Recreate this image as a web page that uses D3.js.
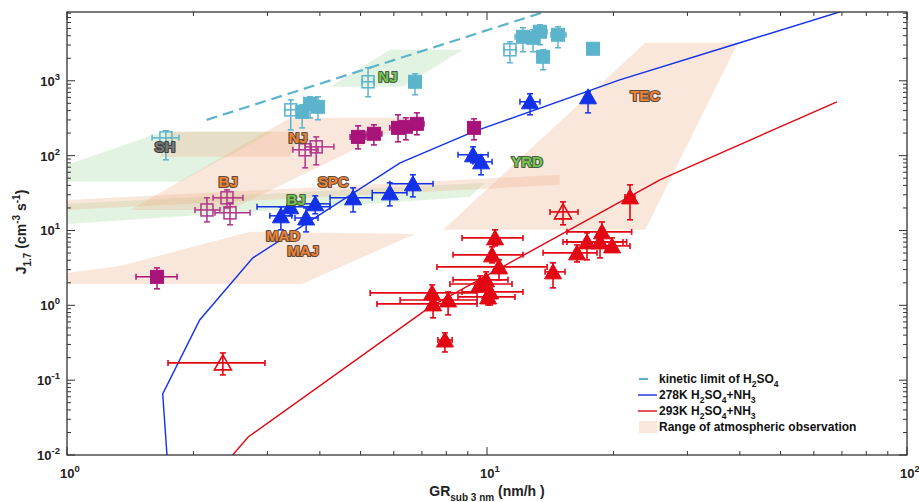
<!DOCTYPE html>
<html><head><meta charset="utf-8">
<script src="https://cdn.jsdelivr.net/npm/d3@7"></script>
<style>body{margin:0;background:#fff}text{font-family:"Liberation Sans",Arial,Helvetica,sans-serif;font-weight:bold}</style>
</head><body><svg id="c" width="919" height="502"></svg>
<script>
// ---- data ----
const xTickExp = [0, 1, 2];
const yTickExp = [-2, -1, 0, 1, 2, 3];
const kineticGR = [2.15, 13.5];
const kineticJ = [300, 8100];
const line278GR = [1.73, 1.69, 2.07, 2.77, 6.21, 9.26, 20.7, 40.0, 69.3];
const line278J = [0.01, 0.0654, 0.638, 4.3, 80, 208, 1031, 3222, 8360];
const line293GR = [2.48, 2.70, 7.32, 25.8, 68.1];
const line293J = [0.01, 0.0174, 0.953, 47.5, 524];
// regions: [GR, J] vertices
const greenRegions = [
  [[4.23,832],[5.87,2596],[8.77,2596],[6.31,832]],
  [[0.764,44.7],[1.69,208],[3.09,208],[1.86,44.7]],
  [[1,22.7],[9.9,43.3],[9.1,28.1],[1,12.2]]
];
const peachRegions = [
  [[7.86,10.2],[23.8,10.2],[39.6,3220],[23.8,3220]],
  [[1.413,18.8],[2.444,18.8],[6.93,320],[3.40,320]],
  [[1.665,96.4],[3.40,96.4],[3.59,208],[1.76,208]],
  [[1,25.6],[14.9,55.4],[14.9,40.7],[1,18.8]],
  [[1,1.93],[3.63,1.93],[6.74,9.0],[2.73,9.6],[1.337,3.36],[1,2.71]]
];
// points: [GR, J, GRlo, GRhi, Jlo, Jhi]
const cyanOpen = [
  [1.72,173,1.594,1.848,87.9,215],
  [5.21,970,5.04,5.38,611,1493],
  [3.41,409,3.30,3.53,221,557],
  [11.34,2597,10.98,11.73,1741,3322]
];
const cyanFilled = [
  [3.63,385,3.53,3.73,235,478],
  [3.79,493,3.69,3.90,320,611],
  [3.96,449,3.85,4.09,301,611],
  [6.74,970,6.52,6.96,650,1241],
  [12.18,3873,11.66,12.73,2443,5113],
  [12.87,3758,12.45,13.3,2443,4808],
  [13.37,4521,12.87,13.9,3030,5610],
  [13.6,2094,13.15,14.05,1404,2596],
  [14.76,4121,14.2,15.42,2762,5270],
  [17.88,2679,null,null,null,null]
];
const magentaOpen = [
  [3.69,119.6,3.45,3.96,68.7,162.6],
  [3.92,131,3.69,4.32,75.4,178],
  [2.154,18.8,2.017,2.313,13.0,27.3],
  [2.404,27.3,2.227,2.624,20.0,34.9],
  [2.444,17.2,2.251,2.728,11.9,23.4]
];
const magentaFilled = [
  [1.638,2.40,1.46,1.828,1.66,3.16],
  [4.93,178,4.72,5.15,123,250],
  [5.38,196,5.15,5.62,139,258],
  [6.14,235,5.87,6.49,153,351],
  [6.41,243,6.2,6.62,162.6,320],
  [6.81,266,6.56,7.08,190,373],
  [9.31,235,9.1,9.52,162.6,310]
];
const blueFilled = [
  [3.23,15.7,3.04,3.43,10.2,20.7],
  [3.40,20.7,2.834,4.229,15.7,25.6],
  [3.71,14.7,3.49,3.96,9.58,20.0],
  [3.90,22.7,3.59,4.23,16.7,29.0],
  [4.80,27.3,4.23,5.33,17.7,37.1],
  [5.87,31.8,5.33,6.45,21.3,43.3],
  [6.66,42.0,5.87,7.44,28.1,55.4],
  [9.26,102.6,8.53,10.06,80.2,131],
  [9.68,82.6,9.26,10.28,55.4,102.6],
  [12.66,524,11.98,13.37,351,670],
  [17.4,611,null,null,373,713]
];
const redFilled = [
  [10.45,7.96,8.72,12.18,6.22,10.2],
  [10.28,4.72,8.30,12.18,3.69,6.04],
  [10.68,3.26,7.60,13.9,2.19,4.05],
  [9.95,2.19,8.30,11.22,1.71,2.80],
  [9.62,1.93,8.16,11.47,1.51,2.47],
  [10.17,1.51,8.72,12.18,1.01,1.93],
  [10.06,1.295,8.53,11.66,1.01,1.66],
  [7.40,1.466,5.27,9.47,1.18,1.87],
  [7.44,1.044,5.47,9.47,0.68,1.34],
  [8.08,1.18,6.21,9.47,0.745,1.51],
  [7.94,0.344,7.64,8.26,0.238,0.428],
  [14.36,2.80,13.75,15.34,1.71,3.69],
  [16.38,5.02,13.6,18.28,3.80,6.41],
  [17.3,7.04,15.17,21.08,4.05,9.29],
  [18.58,7.04,15.5,21.5,4.30,9.29],
  [18.78,9.58,15.5,22.1,6.41,13.0],
  [19.85,6.22,18.58,21.9,5.17,7.96],
  [21.9,28.1,21.3,22.5,13.9,40.7]
];
const redOpen = [
  [15.17,17.7,14.13,16.47,11.9,24.1],
  [2.35,0.170,1.740,2.96,0.1175,0.231]
];
const labelText = ["SH","NJ","NJ","BJ","BJ","SPC","MAD","MAJ","YRD","TEC"];
const labelGR = [1.71,3.55,5.81,2.42,3.51,4.30,3.27,3.65,12.45,23.8];
const labelJ = [131,173,1130,44.7,25.6,44.7,8.47,5.34,82.6,631];
const labelKind = ["gray","orange","green","orange","green","orange","orange","orange","green","orange"];
const legendText = ["kinetic limit of H_2SO_4","278K H_2SO_4+NH_3","293K H_2SO_4+NH_3","Range of atmospheric observation"];

// ---- styles ----
const C = {cyan:"#5cb4cc", magenta:"#a8137a", magentaOpen:"#b0358a", blue:"#1231e8", red:"#e30613",
  peach:"#efae88", green:"#9fd89c", axis:"#333"};
const lblFill = {gray:"#7a7a7a", orange:"#ec8434", green:"#74c453"};
const lblStroke = {gray:"#3c3c3c", orange:"#5e4a3c", green:"#4a5a40"};

const svg = d3.select("#c");
const L=67,R=907,T=12,B=455;
const x = d3.scaleLog().domain([1,100]).range([L,R]);
const y = d3.scaleLog().domain([0.01,8300]).range([B,T]);

svg.append("defs").append("clipPath").attr("id","clip")
  .append("rect").attr("x",L).attr("y",T).attr("width",R-L).attr("height",B-T);
const plot = svg.append("g").attr("clip-path","url(#clip)");

const poly = d3.line().x(d=>x(d[0])).y(d=>y(d[1]));
plot.selectAll(".g").data(greenRegions).join("path")
  .attr("d",d=>poly(d)+"Z").attr("fill",C.green).attr("fill-opacity",0.3);
plot.selectAll(".p").data(peachRegions).join("path")
  .attr("d",d=>poly(d)+"Z").attr("fill",C.peach).attr("fill-opacity",0.3);

const ln = d3.line().x(d=>x(d[0])).y(d=>y(d[1]));
plot.append("path").attr("d",ln(kineticGR.map((g,i)=>[g,kineticJ[i]])))
  .attr("fill","none").attr("stroke",C.cyan).attr("stroke-width",2.2).attr("stroke-dasharray","11,6");
plot.append("path").attr("d",ln(line278GR.map((g,i)=>[g,line278J[i]])))
  .attr("fill","none").attr("stroke",C.blue).attr("stroke-width",1.4);
plot.append("path").attr("d",ln(line293GR.map((g,i)=>[g,line293J[i]])))
  .attr("fill","none").attr("stroke",C.red).attr("stroke-width",1.4);

function errbars(data,color,w){
  const g = plot.append("g").attr("stroke",color).attr("stroke-width",w).attr("fill","none");
  data.forEach(d=>{
    const cx=x(d[0]), cy=y(d[1]);
    if(d[2]!=null){
      const a=x(d[2]), b=x(d[3]);
      g.append("line").attr("x1",a).attr("x2",b).attr("y1",cy).attr("y2",cy);
      g.append("line").attr("x1",a).attr("x2",a).attr("y1",cy-3).attr("y2",cy+3);
      g.append("line").attr("x1",b).attr("x2",b).attr("y1",cy-3).attr("y2",cy+3);
    }
    if(d[4]!=null){
      const a=y(d[4]), b=y(d[5]);
      g.append("line").attr("x1",cx).attr("x2",cx).attr("y1",a).attr("y2",b);
      g.append("line").attr("x1",cx-3).attr("x2",cx+3).attr("y1",a).attr("y2",a);
      g.append("line").attr("x1",cx-3).attr("x2",cx+3).attr("y1",b).attr("y2",b);
    }
  });
}
function squares(data,color,filled,s){
  plot.append("g").selectAll("rect").data(data).join("rect")
    .attr("x",d=>x(d[0])-s/2).attr("y",d=>y(d[1])-s/2).attr("width",s).attr("height",s)
    .attr("fill",filled?color:"none").attr("stroke",color).attr("stroke-width",filled?1:1.5);
}
function triangles(data,color,filled){
  plot.append("g").selectAll("path").data(data).join("path")
    .attr("d",d=>{const cx=x(d[0]),cy=y(d[1]);return `M${cx},${cy-8}L${cx+8.5},${cy+7}L${cx-8.5},${cy+7}Z`;})
    .attr("fill",filled?color:"none").attr("stroke",color).attr("stroke-width",filled?1:1.6);
}
errbars(cyanOpen,C.cyan,1.5); squares(cyanOpen,C.cyan,false,12);
errbars(cyanFilled,C.cyan,1.5); squares(cyanFilled,C.cyan,true,13);
errbars(magentaOpen,C.magentaOpen,1.5); squares(magentaOpen,C.magentaOpen,false,12);
errbars(magentaFilled,C.magenta,1.5); squares(magentaFilled,C.magenta,true,13);
errbars(blueFilled,C.blue,1.5); triangles(blueFilled,C.blue,true);
errbars(redFilled,C.red,1.6); triangles(redFilled,C.red,true);
errbars(redOpen,C.red,1.6); triangles(redOpen,C.red,false);

// labels
svg.append("g").selectAll("text").data(labelText).join("text")
  .attr("x",(d,i)=>x(labelGR[i])).attr("y",(d,i)=>y(labelJ[i]))
  .attr("text-anchor","middle").attr("dominant-baseline","central")
  .attr("font-size",15).attr("paint-order","stroke").attr("stroke-linejoin","round")
  .attr("stroke-width",2.2)
  .attr("fill",(d,i)=>lblFill[labelKind[i]]).attr("stroke",(d,i)=>lblStroke[labelKind[i]])
  .text(d=>d);

// axes box and ticks
const ax = svg.append("g").attr("stroke",C.axis).attr("fill","none");
ax.append("rect").attr("x",L).attr("y",T).attr("width",R-L).attr("height",B-T).attr("stroke-width",1.3);
const xMinor=[], yMinor=[];
for(let e=0;e<2;e++) for(let k=2;k<10;k++) xMinor.push(k*Math.pow(10,e));
for(let e=-2;e<4;e++) for(let k=2;k<10;k++){const v=k*Math.pow(10,e); if(v<=8300) yMinor.push(v);}
xTickExp.forEach(e=>{const px=x(Math.pow(10,e));
  ax.append("line").attr("x1",px).attr("x2",px).attr("y1",B).attr("y2",B-8);
  ax.append("line").attr("x1",px).attr("x2",px).attr("y1",T).attr("y2",T+8);});
xMinor.forEach(v=>{const px=x(v);
  ax.append("line").attr("x1",px).attr("x2",px).attr("y1",B).attr("y2",B-4);
  ax.append("line").attr("x1",px).attr("x2",px).attr("y1",T).attr("y2",T+4);});
yTickExp.forEach(e=>{const py=y(Math.pow(10,e));
  ax.append("line").attr("x1",L).attr("x2",L+8).attr("y1",py).attr("y2",py);
  ax.append("line").attr("x1",R).attr("x2",R-8).attr("y1",py).attr("y2",py);});
yMinor.forEach(v=>{const py=y(v);
  ax.append("line").attr("x1",L).attr("x2",L+4).attr("y1",py).attr("y2",py);
  ax.append("line").attr("x1",R).attr("x2",R-4).attr("y1",py).attr("y2",py);});

const tl = svg.append("g").attr("fill","#222");
xTickExp.forEach(e=>{
  const t=tl.append("text").attr("x",x(Math.pow(10,e))+3).attr("y",478).attr("text-anchor","middle").attr("font-size",13);
  t.append("tspan").text("10");
  t.append("tspan").attr("dy",-6).attr("font-size",9.5).text(e);
});
yTickExp.forEach(e=>{
  const t=tl.append("text").attr("x",L-7).attr("y",y(Math.pow(10,e))+5).attr("text-anchor","end").attr("font-size",13);
  t.append("tspan").text("10");
  t.append("tspan").attr("dy",-6).attr("font-size",9.5).text(e);
});
// axis titles
const xt = tl.append("text").attr("x",487).attr("y",496).attr("text-anchor","middle").attr("font-size",14);
xt.append("tspan").text("GR");
xt.append("tspan").attr("dy",5).attr("font-size",10).text("sub 3 nm");
xt.append("tspan").attr("dy",-5).text(" (nm/h )");
const yt = tl.append("text").attr("transform","translate(26,232) rotate(-90)").attr("text-anchor","middle").attr("font-size",14);
yt.append("tspan").text("J");
yt.append("tspan").attr("dy",5).attr("font-size",10).text("1.7");
yt.append("tspan").attr("dy",-5).text(" (cm");
yt.append("tspan").attr("dy",-6).attr("font-size",10).text("-3");
yt.append("tspan").attr("dy",6).text(" s");
yt.append("tspan").attr("dy",-6).attr("font-size",10).text("-1");
yt.append("tspan").attr("dy",6).text(")");

// legend
const lg = svg.append("g");
const rows=[379,395,411,427];
lg.append("line").attr("x1",639).attr("x2",648).attr("y1",rows[0]).attr("y2",rows[0]).attr("stroke",C.cyan).attr("stroke-width",2.2);
lg.append("line").attr("x1",638).attr("x2",657).attr("y1",rows[1]).attr("y2",rows[1]).attr("stroke",C.blue).attr("stroke-width",1.4);
lg.append("line").attr("x1",638).attr("x2",657).attr("y1",rows[2]).attr("y2",rows[2]).attr("stroke",C.red).attr("stroke-width",1.4);
lg.append("rect").attr("x",639).attr("y",rows[3]-6).attr("width",18).attr("height",12).attr("fill",C.peach).attr("fill-opacity",0.3);
legendText.forEach((s,i)=>{
  const t=lg.append("text").attr("x",659).attr("y",rows[i]+4).attr("font-size",12).attr("fill","#111");
  let sub=false;
  s.split(/(_\d)/).filter(p=>p).forEach(part=>{
    if(part.startsWith("_")){
      t.append("tspan").attr("dy",4).attr("font-size",8.5).text(part.slice(1)); sub=true;
    } else {
      const sp=t.append("tspan").text(part);
      if(sub){sp.attr("dy",-4); sub=false;}
    }
  });
});
</script></body></html>
